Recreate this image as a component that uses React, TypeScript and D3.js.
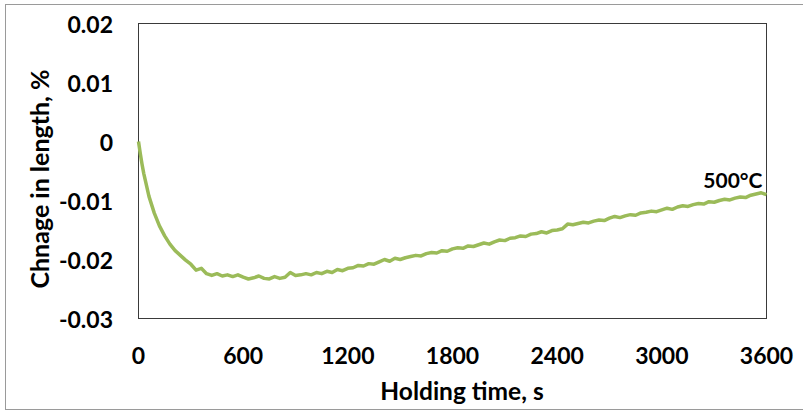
import React from "react";
import * as d3 from "d3";

const times = [0, 10, 20, 30, 60, 90, 120, 150, 180, 210, 240, 270, 300, 330, 360, 390, 420, 450, 480, 510, 540, 570, 600, 630, 660, 690, 720, 750, 780, 810, 840, 870, 900, 930, 960, 990, 1020, 1050, 1080, 1110, 1140, 1170, 1200, 1230, 1260, 1290, 1320, 1350, 1380, 1410, 1440, 1470, 1500, 1530, 1560, 1590, 1620, 1650, 1680, 1710, 1740, 1770, 1800, 1830, 1860, 1890, 1920, 1950, 1980, 2010, 2040, 2070, 2100, 2130, 2160, 2190, 2220, 2250, 2280, 2310, 2340, 2370, 2400, 2430, 2460, 2490, 2520, 2550, 2580, 2610, 2640, 2670, 2700, 2730, 2760, 2790, 2820, 2850, 2880, 2910, 2940, 2970, 3000, 3030, 3060, 3090, 3120, 3150, 3180, 3210, 3240, 3270, 3300, 3330, 3360, 3390, 3420, 3450, 3480, 3510, 3540, 3570, 3600];

const lengthChange = [0.0, -0.002, -0.0038, -0.0054, -0.0093, -0.0121, -0.0143, -0.016, -0.0174, -0.0185, -0.0193, -0.0201, -0.0208, -0.0218, -0.0215, -0.0224, -0.0227, -0.0224, -0.0228, -0.0226, -0.0229, -0.0226, -0.023, -0.0233, -0.0231, -0.0228, -0.0232, -0.0233, -0.0229, -0.0232, -0.023, -0.0222, -0.0227, -0.0226, -0.0224, -0.0226, -0.0222, -0.0224, -0.022, -0.0222, -0.0217, -0.0219, -0.0215, -0.0214, -0.021, -0.0211, -0.0207, -0.0208, -0.0204, -0.02, -0.0203, -0.0198, -0.02, -0.0197, -0.0195, -0.0193, -0.0194, -0.019, -0.0188, -0.0189, -0.0185, -0.0186, -0.0182, -0.018, -0.0181, -0.0177, -0.0178, -0.0175, -0.0172, -0.0174, -0.017, -0.0167, -0.0168, -0.0164, -0.0163, -0.016, -0.0161, -0.0157, -0.0156, -0.0153, -0.0155, -0.0151, -0.015, -0.0148, -0.014, -0.0141, -0.0139, -0.0137, -0.0138, -0.0135, -0.0133, -0.0134, -0.013, -0.0127, -0.0129, -0.0126, -0.0124, -0.0125, -0.0121, -0.012, -0.0118, -0.0119, -0.0116, -0.0113, -0.0115, -0.0111, -0.0109, -0.011, -0.0107, -0.0105, -0.0106, -0.0102, -0.0103, -0.01, -0.0098, -0.0099, -0.0096, -0.0094, -0.0095, -0.0091, -0.0089, -0.0087, -0.009];

const xTicks = [0, 600, 1200, 1800, 2400, 3000, 3600];
const yTicks = [0.02, 0.01, 0, -0.01, -0.02, -0.03];
const yTickLabels = ["0.02", "0.01", "0", "-0.01", "-0.02", "-0.03"];
const xTitle = "Holding time, s";
const yTitle = "Chnage in length, %";
const seriesLabel = "500°C";

const W = 803;
const H = 411;
const plot = { left: 138.5, right: 766.5, top: 23.5, bottom: 318.5 };
const FONT = "Lato, 'Open Sans', sans-serif";

export default function App() {
  const x = d3.scaleLinear().domain([0, 3600]).range([plot.left, plot.right]);
  const y = d3.scaleLinear().domain([-0.03, 0.02]).range([plot.bottom, plot.top]);
  const pts = times.map((t, i) => [t, lengthChange[i]] as [number, number]);
  const line = d3
    .line<[number, number]>()
    .x((d) => x(d[0]))
    .y((d) => y(d[1]));
  const last = pts[pts.length - 1];

  return (
    <svg
      width={W}
      height={H}
      style={{ position: "absolute", left: 0, top: 0, background: "#fff" }}
      fontFamily={FONT}
    >
      <rect x={0} y={0} width={W} height={H} fill="#fff" />
      <rect x={5.5} y={4.5} width={820} height={405} fill="#fff" stroke="#9a9a9a" strokeWidth={1} />
      <rect
        x={plot.left}
        y={plot.top}
        width={plot.right - plot.left}
        height={plot.bottom - plot.top}
        fill="#fff"
        stroke="#3a3a3a"
        strokeWidth={1}
      />
      <path d={line(pts) || ""} fill="none" stroke="#9BBB59" strokeWidth={3.5} strokeLinejoin="round" />
      {yTicks.map((v, i) => (
        <text
          key={"y" + i}
          x={113}
          y={y(v)}
          textAnchor="end"
          dominantBaseline="central"
          fontSize={23}
          fontWeight="bold"
          fill="#000"
        >
          {yTickLabels[i]}
        </text>
      ))}
      {xTicks.map((v, i) => (
        <text
          key={"x" + i}
          x={x(v)}
          y={355}
          textAnchor="middle"
          dominantBaseline="central"
          fontSize={23}
          fontWeight="bold"
          fill="#000"
        >
          {String(v)}
        </text>
      ))}
      <text x={462} y={400} textAnchor="middle" fontSize={24.5} fontWeight="bold" fill="#000">
        {xTitle}
      </text>
      <text
        transform="translate(49, 179) rotate(-90)"
        textAnchor="middle"
        fontSize={25}
        fontWeight="bold"
        fill="#000"
      >
        {yTitle}
      </text>
      <text
        x={x(last[0]) - 4}
        y={y(last[1]) - 7}
        textAnchor="end"
        fontSize={21}
        fontWeight="bold"
        fill="#000"
      >
        {seriesLabel}
      </text>
    </svg>
  );
}
